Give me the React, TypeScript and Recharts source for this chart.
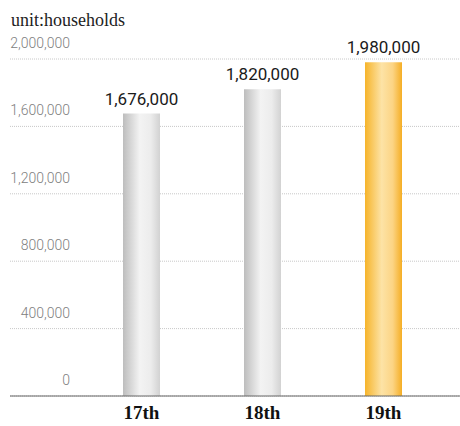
import React from 'react';
import { BarChart, Bar, XAxis, YAxis, CartesianGrid, Cell, LabelList } from 'recharts';

const terms = ['17th', '18th', '19th'];
const households = [1676000, 1820000, 1980000];
const yTicks = [0, 400000, 800000, 1200000, 1600000, 2000000];
const barFills = ['url(#grayBar)', 'url(#grayBar)', 'url(#goldBar)'];

const data = terms.map((term, i) => ({ term, value: households[i] }));

const fmt = (v: number) => v.toLocaleString('en-US');

const YTick = (props: any) => {
  const { y, payload } = props;
  return (
    <text
      x={70}
      y={y - 11}
      textAnchor="end"
      fill="#808080"
      fontFamily="Roboto, sans-serif"
      fontWeight={300}
      fontSize={14}
    >
      {fmt(payload.value)}
    </text>
  );
};

const XTick = (props: any) => {
  const { x, y, payload } = props;
  return (
    <text
      x={x}
      y={y + 15}
      textAnchor="middle"
      fill="#111"
      fontFamily="'Liberation Serif', 'Times New Roman', serif"
      fontWeight={700}
      fontSize={19}
    >
      {payload.value}
    </text>
  );
};

const App: React.FC = () => {
  return (
    <div style={{ position: 'absolute', left: 0, top: 0, width: 460, height: 426, background: '#fff' }}>
      <div
        style={{
          position: 'absolute',
          left: 11,
          top: 10,
          fontFamily: "'Liberation Serif', 'Times New Roman', serif",
          fontSize: 18,
          color: '#222',
          lineHeight: '20px',
        }}
      >
        unit:households
      </div>
      <BarChart
        width={460}
        height={426}
        data={data}
        margin={{ top: 59, right: 0, bottom: 0, left: -50 }}
      >
        <defs>
          <linearGradient id="grayBar" x1="0" y1="0" x2="1" y2="0">
            <stop offset="0%" stopColor="#bdbdbd" />
            <stop offset="45%" stopColor="#f3f3f3" />
            <stop offset="75%" stopColor="#ececec" />
            <stop offset="100%" stopColor="#d2d2d2" />
          </linearGradient>
          <linearGradient id="goldBar" x1="0" y1="0" x2="1" y2="0">
            <stop offset="0%" stopColor="#f6b42a" />
            <stop offset="45%" stopColor="#fde3a6" />
            <stop offset="75%" stopColor="#fcd484" />
            <stop offset="100%" stopColor="#f5ae25" />
          </linearGradient>
        </defs>
        <CartesianGrid vertical={false} stroke="#c8c8c8" strokeDasharray="1 1" />
        <XAxis
          dataKey="term"
          height={30}
          padding={{ left: 71, right: 16 }}
          axisLine={{ stroke: '#666' }}
          tickLine={false}
          tick={<XTick />}
        />
        <YAxis
          width={60}
          domain={[0, 2000000]}
          ticks={yTicks}
          axisLine={false}
          tickLine={false}
          tick={<YTick />}
          interval={0}
        />
        <Bar dataKey="value" barSize={37} isAnimationActive={false}>
          {data.map((d, i) => (
            <Cell key={d.term} fill={barFills[i]} />
          ))}
          <LabelList
            dataKey="value"
            position="top"
            offset={9}
            formatter={(v: any) => fmt(Number(v))}
            fill="#1a1a1a"
            fontFamily="Roboto, sans-serif"
            fontSize={17}
          />
        </Bar>
      </BarChart>
    </div>
  );
};

export default App;
